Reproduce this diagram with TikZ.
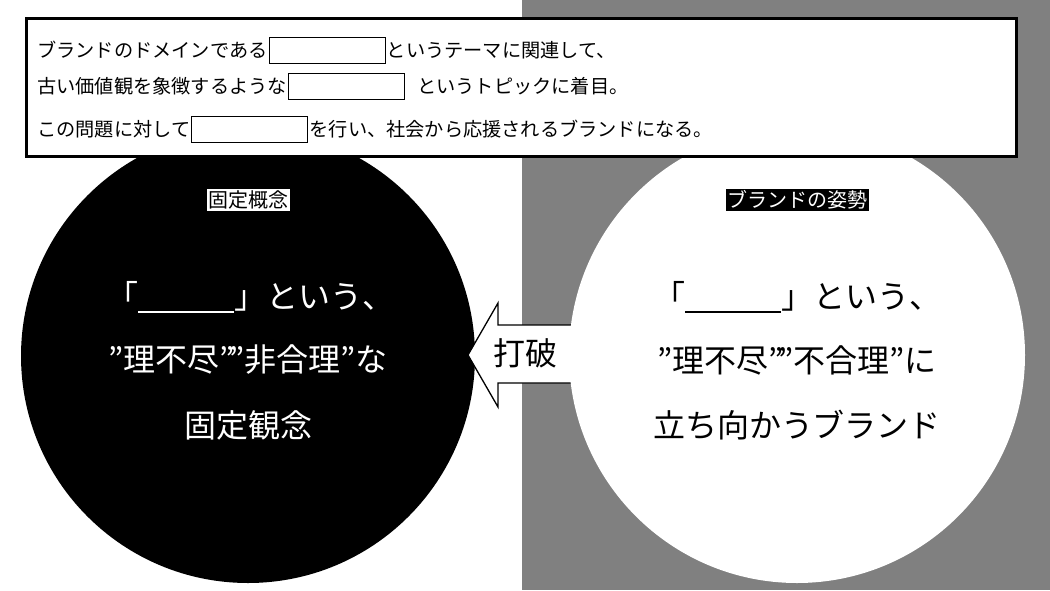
\documentclass[tikz,border=0pt]{standalone}
\usepackage{fontspec}
\setmainfont{Noto Sans CJK JP}
\definecolor{bggray}{RGB}{128,128,128}
\newcommand{\blankline}{\rule[-4pt]{96pt}{1.6pt}}
\newcommand{\qq}{”\kern-5pt”}
\begin{document}
\begin{tikzpicture}[x=1pt,y=-1pt,
  blank/.style={draw=black,line width=1pt,fill=white,minimum width=116pt,minimum height=26pt,inner sep=0pt,anchor=west},
  boxtext/.style={anchor=west,inner sep=0pt,font=\fontsize{19.2}{22}\selectfont},
  bigtext/.style={inner sep=0pt,font=\fontsize{32}{36}\selectfont},
  smalllabel/.style={inner sep=1.5pt,font=\fontsize{20}{22}\selectfont}]
\useasboundingbox (0,0) rectangle (1050,590);
\fill[white] (0,0) rectangle (1050,590);
\fill[bggray] (522,0) rectangle (1050,590);
% black circle
\node[circle,fill=black,minimum size=454pt,inner sep=0pt] (lc) at (248,356) {};
% arrow
\draw[fill=white,line width=1.3pt,line join=miter]
  (468,355) coordinate (tip) -- (498,303) -- (498,325) -- (590,325) -- (590,383) -- (498,383) -- (498,407) -- cycle;
% white circle
\node[circle,fill=white,minimum size=456pt,inner sep=0pt] (rc) at (797,355) {};
\node[font=\fontsize{32}{36}\selectfont,inner sep=0pt] (brk) at (525,353) {打破};
% labels
\node[smalllabel,fill=white,text=black] (l1) at (248,200) {固定概念};
\node[smalllabel,fill=black,text=white] (l2) at (797,200) {ブランドの姿勢};
% left texts
\node[bigtext,text=white] (a1) at (250,297) {「\blankline」という、};
\node[bigtext,text=white] (a2) at (248,360) {”理不尽\qq 非合理”な};
\node[bigtext,text=white] (a3) at (248,425) {固定観念};
% right texts
\node[bigtext,text=black] (b1) at (797,297) {「\blankline」という、};
\node[bigtext,text=black] (b2) at (797,360) {”理不尽\qq 不合理”に};
\node[bigtext,text=black] (b3) at (797,425) {立ち向かうブランド};
% top box
\node[draw=black,line width=3pt,fill=white,minimum width=990pt,minimum height=138pt,inner sep=0pt,anchor=north west] (top) at (25,17) {};
\node[boxtext] (t1a) at (37,50) {ブランドのドメインである};
\node[blank] (k1) at ([xshift=1pt]t1a.east) {};
\node[boxtext] (t1b) at ([xshift=1pt]k1.east) {というテーマに関連して、};
\node[boxtext] (t2a) at (37,86) {古い価値観を象徴するような};
\node[blank] (k2) at ([xshift=1pt]t2a.east) {};
\node[boxtext] (t2b) at ([xshift=12pt]k2.east) {というトピックに着目。};
\node[boxtext] (t3a) at (37,129) {この問題に対して};
\node[blank] (k3) at ([xshift=1pt]t3a.east) {};
\node[boxtext] (t3b) at ([xshift=1pt]k3.east) {を行い、社会から応援されるブランドになる。};
\end{tikzpicture}
\end{document}
